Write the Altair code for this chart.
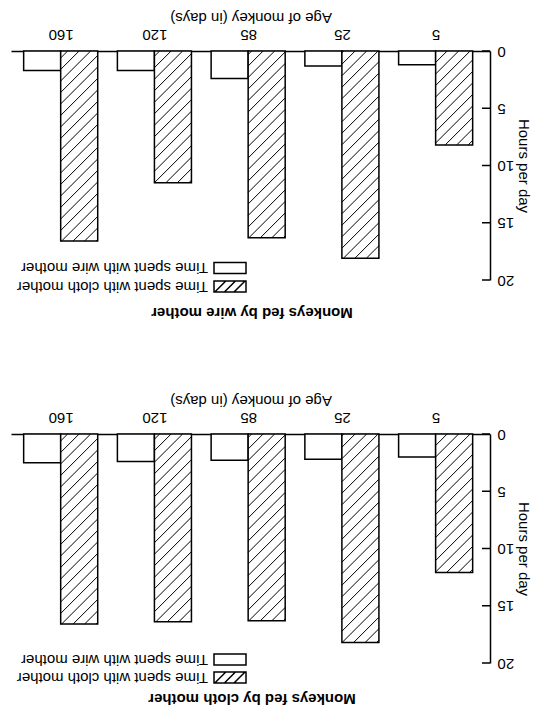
import json
import altair as alt
import numpy as np
import pandas as pd

# ---------------- data ----------------
ages = ["5", "25", "85", "120", "160"]
series = ["Time spent with wire mother", "Time spent with cloth mother"]
panel_titles = ["Monkeys fed by wire mother", "Monkeys fed by cloth mother"]
wire_fed_wire_hours = [1.2, 1.3, 2.4, 1.7, 1.7]
wire_fed_cloth_hours = [8.2, 18.1, 16.3, 11.5, 16.6]
cloth_fed_wire_hours = [2.0, 2.2, 2.3, 2.4, 2.5]
cloth_fed_cloth_hours = [12.1, 18.2, 16.3, 16.4, 16.6]
hour_ticks = [0, 5, 10, 15, 20]
x_title = "Age of monkey (in days)"
y_title = "Hours per day"

# ---------------- layout / style ----------------
W, H = 479, 229
X_DOMAIN = [-0.58, 4.53]
BAR_W = 0.395
HATCH_GAP = 11.5
FONT = "Liberation Sans"
FS = 15
SX = W / (X_DOMAIN[1] - X_DOMAIN[0])
SY = H / hour_ticks[-1]

xscale = alt.Scale(domain=X_DOMAIN, reverse=True, nice=False, zero=False)
yscale = alt.Scale(domain=[hour_ticks[0], hour_ticks[-1]], reverse=True, nice=False, zero=False)
label_expr = json.dumps(ages) + "[datum.value]"

xaxis = alt.Axis(
    orient="top", values=list(range(len(ages))), labelExpr=label_expr,
    labelAngle=180, labelFlush=False, labelOverlap=False, ticks=False,
    grid=False, domain=True, domainColor="black", domainWidth=1.5, labelPadding=10,
    labelFont=FONT, labelFontSize=FS, labelColor="black",
    title=x_title, titleAngle=180, titleBaseline="top", titleFont=FONT,
    titleFontSize=FS, titleFontWeight="normal", titleColor="black", titlePadding=2,
)
yaxis = alt.Axis(
    orient="right", values=hour_ticks, labelAngle=180, ticks=False,
    grid=False, domain=True, domainColor="black", domainWidth=1.5, labelPadding=7,
    labelFont=FONT, labelFontSize=FS, labelColor="black",
    title=y_title, titleAngle=90, titleFont=FONT, titleFontSize=FS,
    titleFontWeight="normal", titleColor="black", titlePadding=2,
)


def hatch_segments(xa, xb, h):
    pa, pb, qh = xa * SX, xb * SX, h * SY
    out = []
    start = np.ceil(-pb / HATCH_GAP) * HATCH_GAP
    for c in np.arange(start, qh - pa, HATCH_GAP):
        lo = max(pa, -c)
        hi = min(pb, qh - c)
        if hi - lo > 0.5:
            out.append((lo / SX, (lo + c) / SY, hi / SX, (hi + c) / SY))
    return out


def panel(title, wire_vals, cloth_vals, leg_y, title_y):
    rows = []
    hrows = []
    for i, (w, c) in enumerate(zip(wire_vals, cloth_vals)):
        rows.append({"age": ages[i], "series": series[0], "x0": i, "x1": i + BAR_W, "y0": 0, "y1": w})
        rows.append({"age": ages[i], "series": series[1], "x0": i - BAR_W, "x1": i, "y0": 0, "y1": c})
        for seg in hatch_segments(i - BAR_W, i, c):
            hrows.append({"hx0": seg[0], "hy0": seg[1], "hx1": seg[2], "hy1": seg[3]})
    bars_df = pd.DataFrame(rows)
    hatch_df = pd.DataFrame(hrows)
    ticks_df = pd.DataFrame({"hours": hour_ticks})

    bars = alt.Chart(bars_df).mark_rect(fill="white", stroke="black", strokeWidth=1.5).encode(
        x=alt.X("x0:Q", scale=xscale, axis=xaxis),
        x2="x1:Q",
        y=alt.Y("y0:Q", scale=yscale, axis=yaxis),
        y2="y1:Q",
    )
    hatch = alt.Chart(hatch_df).mark_rule(color="black", strokeWidth=1).encode(
        x=alt.X("hx0:Q", scale=xscale, axis=xaxis),
        x2="hx1:Q",
        y=alt.Y("hy0:Q", scale=yscale, axis=yaxis),
        y2="hy1:Q",
    )
    # inward tick marks of the hours axis
    ticks = alt.Chart(ticks_df).mark_tick(
        orient="horizontal", size=8, thickness=1.5, color="black", opacity=1
    ).encode(
        y=alt.Y("hours:Q", scale=yscale, axis=yaxis),
        x=alt.value(W - 4),
    )

    layers = [bars, hatch, ticks]
    # manual legend (drawn upside down like the reference)
    shapes = [
        "M-1,-0.34H1V0.34H-1Z",
        "M-1,-0.34H1V0.34H-1Z M-0.95,0.34L-0.26,-0.34 M-0.35,0.34L0.34,-0.34 M0.25,0.34L0.94,-0.34",
    ]
    for j, s in enumerate(series):
        sym = alt.Chart(pd.DataFrame({"series": [s]})).mark_point(
            shape=shapes[j], size=1024, filled=False, fill="white", stroke="black",
            strokeWidth=1.5, opacity=1,
        ).encode(x=alt.value(219), y=alt.value(leg_y[j]))
        txt = alt.Chart(pd.DataFrame({"series": [s]})).mark_text(
            angle=180, align="left", baseline="middle", font=FONT, fontSize=FS, color="black",
        ).encode(x=alt.value(197), y=alt.value(leg_y[j]), text="series:N")
        layers += [sym, txt]
    ttl = alt.Chart(pd.DataFrame({"t": [title]})).mark_text(
        angle=180, align="center", baseline="middle", font=FONT, fontSize=FS,
        fontWeight="bold", color="black",
    ).encode(x=alt.value(241), y=alt.value(title_y), text="t:N")
    layers.append(ttl)

    return alt.layer(*layers).properties(width=W, height=H)


top = panel(panel_titles[0], wire_fed_wire_hours, wire_fed_cloth_hours, [217, 235.5], 261.5)
bottom = panel(panel_titles[1], cloth_fed_wire_hours, cloth_fed_cloth_hours, [225.5, 243.5], 264.5)

chart = alt.vconcat(top, bottom, spacing=71).properties(
    padding={"left": 3, "top": 0, "right": 2, "bottom": 0}
).configure_view(stroke=None)

chart.save("out.html", embed_options={"renderer": "svg", "actions": False})
